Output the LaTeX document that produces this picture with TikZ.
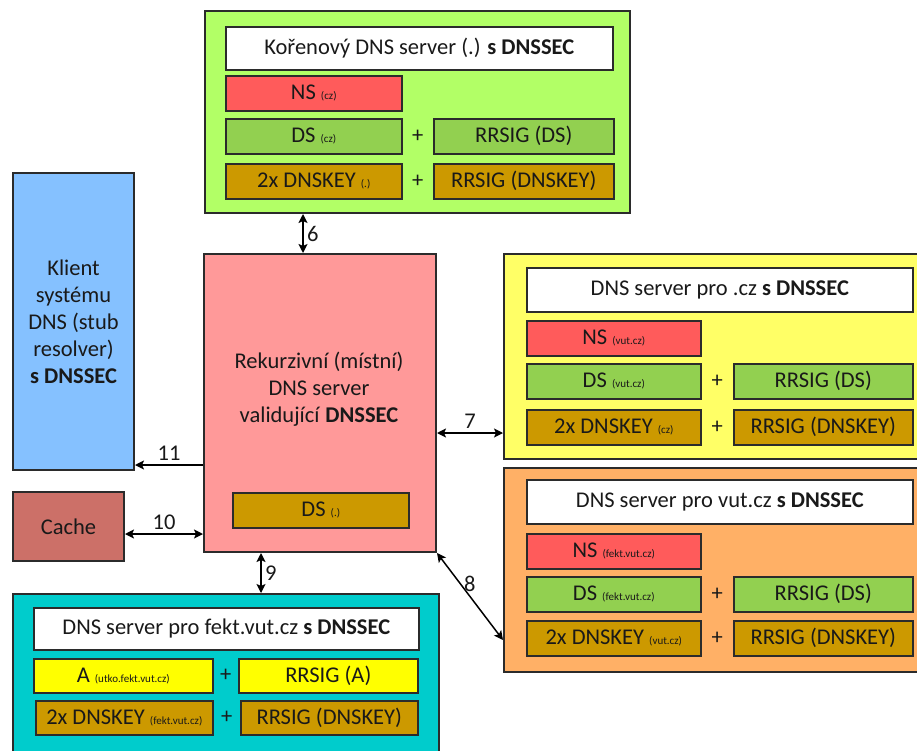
\documentclass[tikz,border=0pt]{standalone}
\usepackage{fontspec}
\setmainfont{Carlito}
\usepackage{tikz}
\usetikzlibrary{arrows.meta,calc,positioning}
\definecolor{boxline}{HTML}{2B2B2B}
\definecolor{rootgreen}{HTML}{B2FF66}
\definecolor{nsred}{HTML}{FF5B5B}
\definecolor{dsgreen}{HTML}{92D050}
\definecolor{keygold}{HTML}{CC9900}
\definecolor{recpink}{HTML}{FF9999}
\definecolor{clientblue}{HTML}{85C1FF}
\definecolor{cachebrown}{HTML}{CC7068}
\definecolor{czyellow}{HTML}{FFFF66}
\definecolor{vutorange}{HTML}{FFB066}
\definecolor{fektteal}{HTML}{00CCCC}
\definecolor{ayellow}{HTML}{FFFF00}
\newcommand{\recsub}[1]{{\fontsize{11}{13}\selectfont #1}}

\begin{document}
\begin{tikzpicture}[x=1pt,y=-1pt,
    every node/.style={font=\fontsize{22.5}{27}\selectfont, text=black!90},
    zone/.style={draw=boxline, line width=2pt, inner sep=0pt, anchor=north west},
    rec/.style={draw=boxline, line width=1.6pt, inner sep=0pt, minimum height=35pt, anchor=north west},
    title/.style={rec, fill=white, minimum height=43pt},
    link/.style={{Stealth[length=9pt,width=9pt,inset=2pt]}-{Stealth[length=9pt,width=9pt,inset=2pt]}, line width=1.5pt},
    oneway/.style={-{Stealth[length=9pt,width=9pt,inset=2pt]}, line width=1.5pt}]
        \clip (0,0) rectangle (917,751);
        \fill[white] (0,0) rectangle (917,751);
        % Root server
        \node[zone, fill=rootgreen, minimum width=425pt, minimum height=202pt] (root) at (204,10) {};
        \node[title, minimum width=387pt] (roottitle) at (225,26) {Kořenový DNS server (.) \textbf{s DNSSEC}};
        \node[rec, fill=nsred, minimum width=176pt] (rootns) at (225,75) {NS \recsub{(cz)}};
        \node[rec, fill=dsgreen, minimum width=176pt] (rootds) at (225,118) {DS \recsub{(cz)}};
        \node[rec, fill=dsgreen, minimum width=180pt] (rootdssig) at (433,118) {RRSIG (DS)};
        \node[rec, fill=keygold, minimum width=176pt] (rootkey) at (225,163) {2x DNSKEY \recsub{(.)}};
        \node[rec, fill=keygold, minimum width=180pt] (rootkeysig) at (433,163) {RRSIG (DNSKEY)};
        \node at ($(rootds.east)!.5!(rootdssig.west)$) {+};
        \node at ($(rootkey.east)!.5!(rootkeysig.west)$) {+};
        % Client and cache
        \node[zone, fill=clientblue, minimum width=121pt, minimum height=297pt, align=center] (client) at (12,172)
            {Klient\\systému\\DNS (stub\\resolver)\\\textbf{s DNSSEC}};
        \node[zone, fill=cachebrown, minimum width=111pt, minimum height=69pt] (cache) at (12,491) {Cache};
        % Recursive server
        \node[zone, fill=recpink, minimum width=232pt, minimum height=298pt] (rec) at (203,253) {};
        \node[align=center] (rectext) at (319,389) {Rekurzivní (místní)\\DNS server\\validující \textbf{DNSSEC}};
        \node[rec, fill=keygold, minimum width=176pt] (recds) at (232,492) {DS \recsub{(.)}};
        % Server for .cz
        \node[zone, fill=czyellow, minimum width=425pt, minimum height=205pt] (cz) at (503,253) {};
        \node[title, minimum width=386pt, minimum height=44pt] (cztitle) at (526,267) {DNS server pro .cz \textbf{s DNSSEC}};
        \node[rec, fill=nsred, minimum width=174pt] (czns) at (526,320) {NS \recsub{(vut.cz)}};
        \node[rec, fill=dsgreen, minimum width=174pt] (czds) at (526,363) {DS \recsub{(vut.cz)}};
        \node[rec, fill=dsgreen, minimum width=179pt] (czdssig) at (733,363) {RRSIG (DS)};
        \node[rec, fill=keygold, minimum width=174pt] (czkey) at (526,409) {2x DNSKEY \recsub{(cz)}};
        \node[rec, fill=keygold, minimum width=179pt] (czkeysig) at (733,409) {RRSIG (DNSKEY)};
        \node at ($(czds.east)!.5!(czdssig.west)$) {+};
        \node at ($(czkey.east)!.5!(czkeysig.west)$) {+};
        % Server for vut.cz
        \node[zone, fill=vutorange, minimum width=425pt, minimum height=204pt] (vut) at (503,467) {};
        \node[title, minimum width=386pt, minimum height=44pt] (vuttitle) at (526,479) {DNS server pro vut.cz \textbf{s DNSSEC}};
        \node[rec, fill=nsred, minimum width=174pt] (vutns) at (526,533) {NS \recsub{(fekt.vut.cz)}};
        \node[rec, fill=dsgreen, minimum width=174pt] (vutds) at (526,576) {DS \recsub{(fekt.vut.cz)}};
        \node[rec, fill=dsgreen, minimum width=179pt] (vutdssig) at (733,576) {RRSIG (DS)};
        \node[rec, fill=keygold, minimum width=174pt] (vutkey) at (526,620) {2x DNSKEY \recsub{(vut.cz)}};
        \node[rec, fill=keygold, minimum width=179pt] (vutkeysig) at (733,620) {RRSIG (DNSKEY)};
        \node at ($(vutds.east)!.5!(vutdssig.west)$) {+};
        \node at ($(vutkey.east)!.5!(vutkeysig.west)$) {+};
        % Server for fekt.vut.cz
        \node[zone, fill=fektteal, minimum width=426pt, minimum height=180pt] (fekt) at (12,593) {};
        \node[title, minimum width=385pt, minimum height=42pt] (fekttitle) at (33,607) {DNS server pro fekt.vut.cz \textbf{s DNSSEC}};
        \node[rec, fill=ayellow, minimum width=179pt, minimum height=34pt] (fekta) at (33,658) {A \recsub{(utko.fekt.vut.cz)}};
        \node[rec, fill=ayellow, minimum width=179pt, minimum height=34pt] (fektasig) at (238,658) {RRSIG (A)};
        \node[rec, fill=keygold, minimum width=177pt, minimum height=34pt] (fektkey) at (35,700) {2x DNSKEY \recsub{(fekt.vut.cz)}};
        \node[rec, fill=keygold, minimum width=177pt, minimum height=34pt] (fektkeysig) at (240,700) {RRSIG (DNSKEY)};
        \node at ($(fekta.east)!.5!(fektasig.west)$) {+};
        \node at ($(fektkey.east)!.5!(fektkeysig.west)$) {+};
        % Arrow levels
        \coordinate (x6) at (303,0);
        \coordinate (y7) at (0,433);
        \coordinate (y8) at (0,640);
        \coordinate (x9) at (261,0);
        \coordinate (y10) at (0,534);
        \coordinate (y11) at (0,465);
        % Queries and answers
        \draw[link] (root.south -| x6) -- node[right] {6} (rec.north -| x6);
        \draw[link] (rec.east |- y7) -- node[above] {7} (cz.west |- y7);
        \draw[link] (rec.south east) -- node[pos=0.35, right] {8} (vut.west |- y8);
        \draw[link] (rec.south -| x9) -- node[right] {9} (fekt.north -| x9);
        \draw[link] (cache.east |- y10) -- node[above] {10} (rec.west |- y10);
        \draw[oneway] (rec.west |- y11) -- node[above] {11} (client.east |- y11);
      \end{tikzpicture}
\end{document}
